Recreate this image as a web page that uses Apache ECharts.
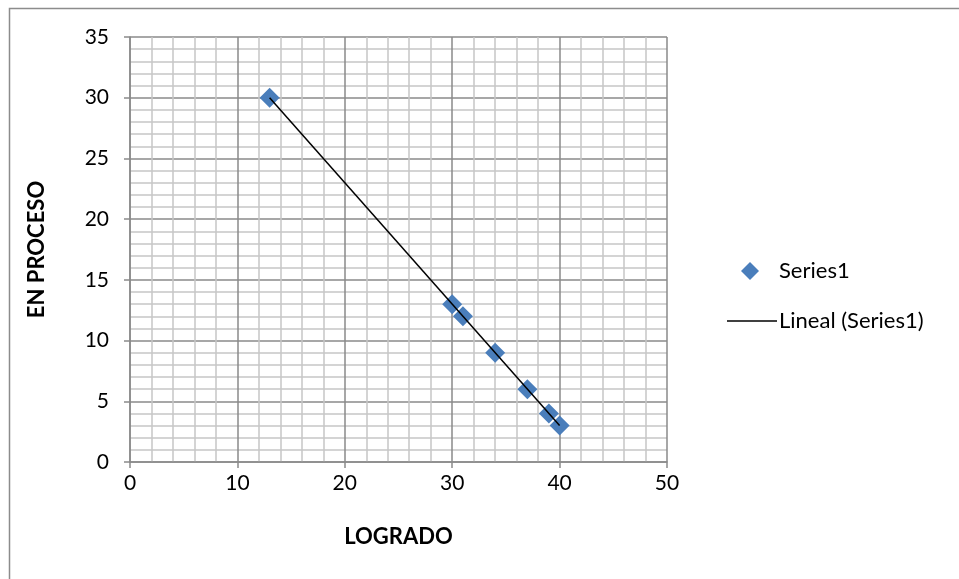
<!DOCTYPE html>
<html>
<head>
<meta charset="utf-8">
<script src="https://cdn.jsdelivr.net/npm/echarts@6/dist/echarts.min.js"></script>
<style>
  html, body { margin: 0; padding: 0; background: #fff; }
  #chart { width: 959px; height: 579px; }
</style>
</head>
<body>
<div id="chart"></div>
<script>
// Observed pairs: LOGRADO (x) vs EN PROCESO (y)
const logrado   = [13, 30, 31, 34, 37, 39, 40];
const enProceso = [30, 13, 12, 9, 6, 4, 3];
const xTicks = [0, 10, 20, 30, 40, 50];
const yTicks = [0, 5, 10, 15, 20, 25, 30, 35];

const points = logrado.map((x, i) => [x, enProceso[i]]);

// Least-squares linear trend over the observed x range
const n = logrado.length;
const mx = logrado.reduce((a, b) => a + b, 0) / n;
const my = enProceso.reduce((a, b) => a + b, 0) / n;
let sxy = 0, sxx = 0;
for (let i = 0; i < n; i++) {
  sxy += (logrado[i] - mx) * (enProceso[i] - my);
  sxx += (logrado[i] - mx) * (logrado[i] - mx);
}
const slope = sxy / sxx;
const intercept = my - slope * mx;
const xMin = Math.min(...logrado), xMax = Math.max(...logrado);
const trend = [[xMin, intercept + slope * xMin], [xMax, intercept + slope * xMax]];

const font = 'Lato, "Open Sans", sans-serif';
const majorColor = '#8a8a8a';
const minorColor = '#c6c6c6';

const chart = echarts.init(document.getElementById('chart'), null, { renderer: 'canvas' });
chart.setOption({
  animation: false,
  backgroundColor: '#fff',
  graphic: [{
    type: 'rect',
    shape: { x: 9.5, y: 8.5, width: 980, height: 600 },
    style: { fill: 'none', stroke: '#8c8c8c', lineWidth: 1.5 },
    silent: true
  }],
  grid: { left: 130, right: 292, top: 37, bottom: 117 },
  xAxis: {
    type: 'value',
    min: xTicks[0], max: xTicks[xTicks.length - 1], interval: 10,
    name: 'LOGRADO', nameLocation: 'middle', nameGap: 64,
    nameTextStyle: { fontFamily: font, fontWeight: 'bold', fontSize: 22, color: '#000' },
    axisLine: { show: true, lineStyle: { color: majorColor, width: 1.5 } },
    axisTick: { show: true, length: 6, lineStyle: { color: majorColor, width: 1.5 } },
    axisLabel: { fontFamily: font, fontSize: 21, color: '#000', margin: 11 },
    splitLine: { show: true, lineStyle: { color: majorColor, width: 1.5 } },
    minorTick: { show: false, splitNumber: 5 },
    minorSplitLine: { show: true, lineStyle: { color: minorColor, width: 1.5 } }
  },
  yAxis: {
    type: 'value',
    min: yTicks[0], max: yTicks[yTicks.length - 1], interval: 5,
    name: 'EN PROCESO', nameLocation: 'middle', nameGap: 82, nameRotate: 90,
    nameTextStyle: { fontFamily: font, fontWeight: 'bold', fontSize: 22, color: '#000' },
    axisLine: { show: true, lineStyle: { color: majorColor, width: 1.5 } },
    axisTick: { show: true, length: 6, lineStyle: { color: majorColor, width: 1.5 } },
    axisLabel: { fontFamily: font, fontSize: 21, color: '#000', margin: 21 },
    splitLine: { show: true, lineStyle: { color: majorColor, width: 1.5 } },
    minorTick: { show: false, splitNumber: 5 },
    minorSplitLine: { show: true, lineStyle: { color: minorColor, width: 1.5 } }
  },
  legend: [{
    data: [{ name: 'Series1', icon: 'diamond' }],
    left: 736, top: 255,
    itemWidth: 18, itemHeight: 18, itemGap: 10,
    textStyle: { fontFamily: font, fontSize: 22, color: '#000', padding: [0, 0, 0, 15] }
  }, {
    data: [{ name: 'Lineal (Series1)', icon: 'rect' }],
    left: 722, top: 305,
    itemWidth: 50, itemHeight: 1.5, itemGap: 10,
    textStyle: { fontFamily: font, fontSize: 22, color: '#000', padding: [0, 0, 0, -3] }
  }],
  series: [{
    name: 'Series1',
    type: 'scatter',
    data: points,
    symbol: 'diamond',
    symbolSize: 20,
    itemStyle: { color: '#4a7ebb', opacity: 1 },
    z: 3
  }, {
    name: 'Lineal (Series1)',
    type: 'line',
    data: trend,
    showSymbol: false,
    symbol: 'none',
    lineStyle: { color: '#000', width: 1.5 },
    itemStyle: { color: '#000' },
    z: 4
  }]
});
</script>
</body>
</html>
